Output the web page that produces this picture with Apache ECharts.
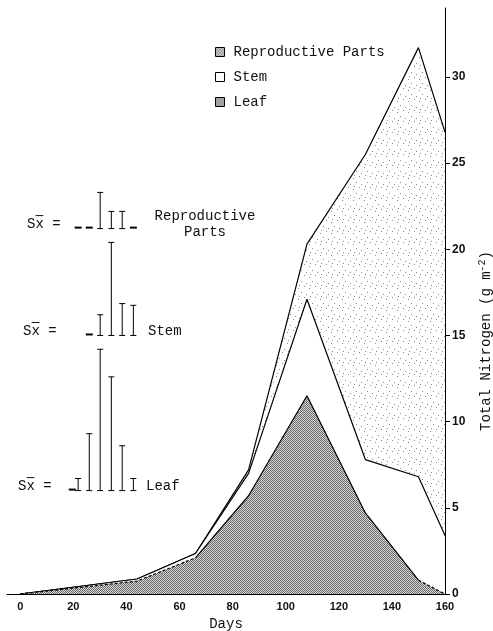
<!DOCTYPE html>
<html>
<head>
<meta charset="utf-8">
<script src="https://cdn.jsdelivr.net/npm/echarts@6/dist/echarts.min.js"></script>
<style>
html, body { margin: 0; padding: 0; background: #fff; }
#main { width: 493px; height: 631px; }
</style>
</head>
<body>
<div id="main"></div>
<script>
// sampling days and nitrogen per plant part (g m-2)
var days = [0, 44, 66, 86, 108, 130, 150, 160];
var leafN = [0, 0.75, 2.1, 5.7, 11.5, 4.7, 0.8, 0];
var stemN = [0, 0.12, 0.25, 1.3, 5.6, 3.1, 6.0, 3.4];
var reproN = [0, 0, 0, 0.2, 3.2, 17.7, 24.9, 23.4];

var xTicks = [0, 20, 40, 60, 80, 100, 120, 140, 160];
var yTicks = [0, 5, 10, 15, 20, 25, 30];

// standard errors, null = no mark
var sxRepro = [null, 0.05, 0.05, 2.1, 1.0, 1.0, 0.05];
var sxStem = [null, null, 0.05, 1.2, 5.4, 1.85, 1.75];
var sxLeaf = [0.05, 0.7, 3.3, 8.2, 6.6, 2.6, 0.7];

// layout of the Sx block (x in days, base in axis units)
var sxCols = [19.6, 21.8, 26, 30.1, 34.3, 38.4, 42.6];
var sxRows = [
    { se: sxRepro, base: 21.2, sxX: 27, label: 'Reproductive\nParts', labelX: 205, align: 'center' },
    { se: sxStem, base: 15.0, sxX: 23, label: 'Stem', labelX: 148, align: 'left' },
    { se: sxLeaf, base: 6.0, sxX: 18, label: 'Leaf', labelX: 146, align: 'left' }
];

var mono = '"Liberation Mono", "DejaVu Sans Mono", monospace';

function pattern(size, bg, dots, dotColor) {
    var c = document.createElement('canvas');
    c.width = size;
    c.height = size;
    var ctx = c.getContext('2d');
    ctx.fillStyle = bg;
    ctx.fillRect(0, 0, size, size);
    ctx.fillStyle = dotColor;
    dots.forEach(function (p) {
        ctx.fillRect(p[0], p[1], 1, 1);
    });
    return { image: c, repeat: 'repeat' };
}

var leafFill = pattern(2, '#dadada', [[0, 0], [1, 1]], '#666');
var reproFill = pattern(11, '#fff', [[1, 2], [7, 0], [4, 6], [9, 8], [2, 10]], '#888');
var reproIcon = pattern(3, '#e8e8e8', [[0, 0], [2, 1], [1, 2]], '#444');

// cumulative tops, drawn back to front so each area covers the one behind
var leafTop = leafN.slice();
var stemTop = stemN.map(function (v, i) { return leafTop[i] + v; });
var reproTop = reproN.map(function (v, i) { return stemTop[i] + v; });

function pairs(vals, keep) {
    return days.map(function (d, i) {
        return [d, keep(d) ? vals[i] : '-'];
    });
}

var myChart = echarts.init(document.getElementById('main'));

var option = {
    backgroundColor: '#fff',
    animation: false,
    grid: { left: 7, right: 48, top: 8, bottom: 37, outerBoundsMode: 'none' },
    legend: {
        orient: 'vertical',
        left: 210,
        top: 40,
        icon: 'rect',
        itemWidth: 9,
        itemHeight: 9,
        itemGap: 11,
        textStyle: { fontFamily: mono, fontSize: 14, color: '#111', padding: [0, 0, 0, 4] },
        data: [
            { name: 'Reproductive Parts', itemStyle: { color: reproIcon, borderColor: '#000', borderWidth: 1 } },
            { name: 'Stem', itemStyle: { color: '#fff', borderColor: '#000', borderWidth: 1 } },
            { name: 'Leaf', itemStyle: { color: leafFill, borderColor: '#000', borderWidth: 1 } }
        ]
    },
    xAxis: {
        type: 'value',
        min: -5,
        max: 160,
        name: 'Days',
        nameLocation: 'middle',
        nameGap: 22,
        nameTextStyle: { fontFamily: mono, fontSize: 14, color: '#111' },
        axisLine: { onZero: false, lineStyle: { color: '#000', width: 1 } },
        axisTick: { show: false },
        splitLine: { show: false },
        axisLabel: {
            customValues: xTicks,
            margin: 7,
            fontFamily: 'Liberation Sans',
            fontSize: 11,
            fontWeight: 'bold',
            color: '#111'
        }
    },
    yAxis: {
        type: 'value',
        position: 'right',
        min: 0,
        max: 34,
        name: '{a|Total Nitrogen (g m}{s|-2}{a|)}',
        nameLocation: 'middle',
        nameRotate: 90,
        nameGap: 32,
        nameTextStyle: {
            padding: [0, 80, 0, 0],
            rich: {
                a: { fontFamily: mono, fontSize: 14, color: '#111' },
                s: { fontFamily: mono, fontSize: 10, color: '#111', padding: [0, 0, 8, 0] }
            }
        },
        axisLine: { show: true, onZero: false, lineStyle: { color: '#000', width: 1 } },
        axisTick: { show: true, length: 5, customValues: yTicks, lineStyle: { color: '#000' } },
        splitLine: { show: false },
        axisLabel: {
            customValues: yTicks,
            margin: 7,
            fontFamily: 'Liberation Sans',
            fontSize: 12,
            fontWeight: 'bold',
            color: '#111'
        }
    },
    series: [
        {
            name: 'Reproductive Parts',
            type: 'line',
            showSymbol: false,
            color: '#000',
            z: 2,
            lineStyle: { color: '#000', width: 1.2 },
            areaStyle: { color: reproFill, opacity: 1 },
            data: days.map(function (d, i) { return [d, reproTop[i]]; })
        },
        {
            name: 'Stem',
            type: 'line',
            showSymbol: false,
            color: '#000',
            z: 3,
            lineStyle: { color: '#000', width: 1.2 },
            areaStyle: { color: '#fff', opacity: 1 },
            data: days.map(function (d, i) { return [d, stemTop[i]]; })
        },
        {
            name: 'Leaf',
            type: 'line',
            showSymbol: false,
            color: '#000',
            z: 4,
            lineStyle: { width: 0 },
            areaStyle: { color: leafFill, opacity: 1 },
            data: days.map(function (d, i) { return [d, leafTop[i]]; })
        },
        {
            type: 'line',
            showSymbol: false,
            z: 5,
            lineStyle: { color: '#000', width: 1.2 },
            data: pairs(leafTop, function (d) { return d >= 66 && d <= 150; })
        },
        {
            type: 'line',
            showSymbol: false,
            z: 5,
            lineStyle: { color: '#000', width: 1.2, type: [3, 2] },
            data: pairs(leafTop, function (d) { return d <= 66 || d >= 150; })
        },
        {
            type: 'custom',
            silent: true,
            clip: false,
            z: 10,
            encode: { x: 0, y: 1 },
            data: sxRows.map(function (r, i) { return [sxCols[0], r.base, i]; }),
            renderItem: function (params, api) {
                var row = sxRows[api.value(2)];
                var y0 = api.coord([0, row.base])[1];
                var kids = [];
                row.se.forEach(function (v, i) {
                    if (v == null) return;
                    var x = api.coord([sxCols[i], row.base])[0];
                    if (v < 0.2) {
                        kids.push({ type: 'rect', shape: { x: x - 3.5, y: y0 - 2, width: 7, height: 2 }, style: { fill: '#000' } });
                        return;
                    }
                    var y1 = api.coord([sxCols[i], row.base + v])[1];
                    [[x, y0, x, y1], [x - 3, y0, x + 3, y0], [x - 3, y1, x + 3, y1]].forEach(function (s) {
                        kids.push({
                            type: 'line',
                            shape: { x1: s[0], y1: s[1], x2: s[2], y2: s[3] },
                            style: { stroke: '#000', lineWidth: 1 }
                        });
                    });
                });
                kids.push({
                    type: 'text',
                    style: { text: 'Sx =', x: row.sxX, y: y0 - 4, font: '14px ' + mono, fill: '#111', verticalAlign: 'middle' }
                });
                kids.push({
                    type: 'line',
                    shape: { x1: row.sxX + 8.6, y1: y0 - 13, x2: row.sxX + 16.4, y2: y0 - 13 },
                    style: { stroke: '#111', lineWidth: 1 }
                });
                kids.push({
                    type: 'text',
                    style: {
                        text: row.label, x: row.labelX, y: y0 - 4, font: '14px ' + mono, fill: '#111',
                        align: row.align, verticalAlign: 'middle', lineHeight: 16
                    }
                });
                return { type: 'group', children: kids };
            }
        }
    ]
};

myChart.setOption(option);
</script>
</body>
</html>
